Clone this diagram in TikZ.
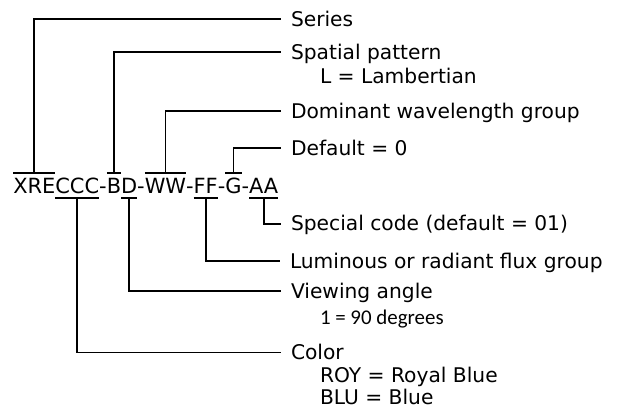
\documentclass[tikz,border=0pt]{standalone}
\usepackage{fontspec}
\setmainfont{DejaVu Sans}
\newfontfamily\carl{Carlito}
\begin{document}
\begin{tikzpicture}[x=1bp,y=-1bp,
  code/.style={inner sep=0pt, outer sep=0pt, text height=20bp, text depth=4.4bp, anchor=base west, font=\fontsize{21}{25}\selectfont},
  lab/.style={inner sep=0pt, outer sep=0pt, text height=14bp, text depth=0pt, anchor=base west, font=\fontsize{20.3}{24}\selectfont},
  sub/.style={inner sep=0pt, outer sep=0pt, anchor=base west, font=\fontsize{20.3}{24}\selectfont},
  conn/.style={line width=1.7bp, shorten >=10bp},
  bar/.style={line width=1.7bp}]
\useasboundingbox (0,0) rectangle (623,409);
% code string
\node[code] (xre) at (13.3,193.3) {XRE};
\node[code] (ccc) at (xre.base east) {CCC};
\node[code] (h1) at (ccc.base east) {-};
\node[code] (b) at (h1.base east) {B};
\node[code] (d) at (b.base east) {D};
\node[code] (h2) at (d.base east) {-};
\node[code] (ww) at (h2.base east) {WW};
\node[code] (h3) at (ww.base east) {-};
\node[code] (ff) at (h3.base east) {FF};
\node[code] (h4) at (ff.base east) {-};
\node[code] (g) at (h4.base east) {G};
\node[code] (h5) at (g.base east) {-};
\node[code] (aa) at (h5.base east) {AA};
% labels
\node[lab] (series) at (291,26) {Series};
\node[lab] (spatial) at (291,59.3) {Spatial pattern};
\node[sub] (lamb) at (320,83.3) {L = Lambertian};
\node[lab] (dom) at (291,118.3) {Dominant wavelength group};
\node[lab] (def) at (291,155) {Default = 0};
\node[lab] (spec) at (291,230.7) {Special code (default = 01)};
\node[lab] (lum) at (290,268.3) {Luminous or radiant flux group};
\node[lab] (view) at (291,298) {Viewing angle};
\node[sub, font=\carl\fontsize{21}{25}\selectfont] (deg) at (320,324) {1 = 90 degrees};
\node[lab] (color) at (291,359.5) {Color};
\node[sub] (roy) at (320,382.5) {ROY = Royal Blue};
\node[sub] (blu) at (320,404.5) {BLU = Blue};
% over/under bars
\foreach \n in {xre,b,ww,g}{\draw[bar] (\n.north west) -- (\n.north east);}
\foreach \n in {ccc,d,ff,aa}{\draw[bar] (\n.south west) -- (\n.south east);}
% connectors
\draw[conn] (xre.north) |- (series.west);
\draw[conn] (b.north) |- (spatial.west);
\draw[conn] (ww.north) |- (dom.west);
\draw[conn] (g.north) |- (def.west);
\draw[conn] (aa.south) |- (spec.west);
\draw[conn] (ff.south) |- (lum.west);
\draw[conn] (d.south) |- (view.west);
\draw[conn] (ccc.south) |- (color.west);
\end{tikzpicture}
\end{document}
